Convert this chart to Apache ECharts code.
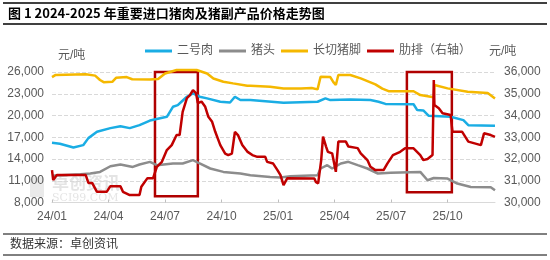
<!DOCTYPE html>
<html><head><meta charset="utf-8">
<script src="https://cdn.jsdelivr.net/npm/echarts@6/dist/echarts.min.js"></script>
<style>html,body{margin:0;padding:0;background:#fff}#c{width:550px;height:260px}</style>
</head><body><div id="c"></div>
<script>
const xTickLabels = ['24/01','24/04','24/07','24/10','25/01','25/04','25/07','25/10'];
const seriesNames = ['二号肉','猪头','长切猪脚','肋排（右轴）'];

const blueDates = ['2024-01-01','2024-01-14','2024-02-05','2024-02-20','2024-02-28','2024-03-13','2024-04-04','2024-04-20','2024-05-05','2024-05-21','2024-06-07','2024-07-04','2024-07-14','2024-07-22','2024-07-28','2024-08-06','2024-08-16','2024-08-27','2024-09-08','2024-09-29','2024-10-15','2024-10-23','2024-11-01','2024-11-17','2025-01-10','2025-03-04','2025-03-17','2025-03-25','2025-04-26','2025-05-29','2025-06-11','2025-06-22','2025-08-07','2025-08-13','2025-08-23','2025-09-01','2025-10-06','2025-10-27','2025-11-04','2025-12-17'];
const blueValues = [16230,16100,15590,15910,16880,17750,18260,18530,18260,18670,19300,19820,21200,21430,21900,22590,23050,22590,22360,21900,21800,22590,22130,22130,21760,21900,22360,22130,22200,22130,21900,21600,21550,20750,20700,19960,19820,19360,18670,18600];

const greyDates = ['2024-01-01','2024-02-16','2024-03-02','2024-03-18','2024-04-04','2024-04-20','2024-05-10','2024-05-21','2024-06-07','2024-06-18','2024-07-14','2024-07-30','2024-08-16','2024-08-27','2024-09-13','2024-10-04','2024-11-01','2024-11-17','2024-12-19','2025-01-05','2025-01-21','2025-03-04','2025-03-09','2025-03-20','2025-03-28','2025-04-11','2025-04-23','2025-05-08','2025-05-24','2025-06-10','2025-06-30','2025-08-18','2025-08-30','2025-09-09','2025-10-01','2025-10-17','2025-11-08','2025-12-10','2025-12-17'];
const greyValues = [11700,11900,12000,12220,13000,13240,12910,13240,13600,13150,13380,13380,13840,13380,12690,12220,12000,11760,11530,11450,11610,11760,12690,13150,12690,13380,13610,13150,12690,12000,12100,12220,11070,11380,11300,10610,10150,10100,9700];

const goldDates = ['2024-01-01','2024-01-07','2024-02-24','2024-03-10','2024-03-18','2024-03-24','2024-04-07','2024-04-13','2024-04-30','2024-05-09','2024-06-07','2024-06-20','2024-07-01','2024-07-20','2024-08-22','2024-09-08','2024-09-18','2024-10-04','2024-10-20','2024-11-12','2024-11-17','2024-12-19','2025-01-10','2025-02-07','2025-02-23','2025-03-04','2025-03-09','2025-03-25','2025-03-30','2025-04-03','2025-04-07','2025-04-26','2025-05-13','2025-06-06','2025-06-17','2025-06-27','2025-08-07','2025-08-18','2025-09-04','2025-09-09','2025-09-10','2025-10-01','2025-11-03','2025-12-05','2025-12-17'];
const goldValues = [25300,25600,25700,25500,24900,24600,24650,25200,25300,25000,24950,25030,25800,26280,26280,25800,25100,24660,24430,24110,24100,23970,23740,23740,23800,23600,25350,25300,24600,24200,25580,25580,25120,24300,23700,23350,23350,22820,22590,22500,24200,23740,23290,23100,22360];

const redDates = ['2024-01-01','2024-01-03','2024-01-09','2024-02-24','2024-02-28','2024-03-05','2024-03-13','2024-03-29','2024-04-04','2024-04-20','2024-04-24','2024-05-05','2024-05-21','2024-05-24','2024-06-03','2024-06-12','2024-06-18','2024-06-26','2024-07-04','2024-07-12','2024-07-20','2024-07-25','2024-07-30','2024-08-06','2024-08-11','2024-08-16','2024-08-21','2024-08-24','2024-08-30','2024-09-05','2024-09-10','2024-09-16','2024-09-21','2024-09-29','2024-10-07','2024-10-12','2024-10-18','2024-10-23','2024-10-28','2024-11-04','2024-11-12','2024-11-20','2024-11-28','2024-12-11','2024-12-14','2024-12-24','2024-12-31','2025-01-05','2025-01-10','2025-01-16','2025-02-27','2025-03-01','2025-03-05','2025-03-10','2025-03-13','2025-03-18','2025-03-21','2025-03-28','2025-04-03','2025-04-07','2025-04-19','2025-04-23','2025-05-08','2025-05-13','2025-05-24','2025-05-29','2025-06-06','2025-06-19','2025-06-25','2025-07-04','2025-07-16','2025-07-24','2025-08-07','2025-08-18','2025-08-23','2025-08-30','2025-09-07','2025-09-09','2025-09-10','2025-09-17','2025-09-23','2025-10-06','2025-10-09','2025-10-25','2025-11-04','2025-11-24','2025-11-29','2025-12-10','2025-12-17'];
const redValues = [31490,31030,31260,31260,30900,30900,30490,30490,30750,30750,30490,30340,30340,30720,31120,31120,31640,31870,32410,32640,33100,33100,34170,34800,34940,35170,35030,34570,34640,34400,33940,33710,33250,32640,32250,32180,32250,33250,33100,32640,32340,32180,32100,32100,31870,31790,31490,31260,30800,31110,31100,30950,30880,31950,33030,32570,32330,32260,31410,32800,32800,32570,32500,32260,31950,31640,31490,31490,31790,32180,32330,32490,32490,32180,31950,32000,32180,35630,34480,34330,34100,34020,33250,33250,32800,32640,33180,33100,33020];

// highlight boxes (date range, right-axis value range)
const boxDates = [['2024-06-15','2024-08-24'],['2025-07-27','2025-10-08']];
const boxValues = [[30286,36184],[30470,36415]];

const axisEnd = '2025-12-17';

function toM(s){const p=s.split('-').map(Number);const dim=new Date(p[0],p[1],0).getDate();return (p[0]-2024)*12+(p[1]-1)+(p[2]-1)/dim;}
function pts(d,v){return d.map((x,i)=>[toM(x),v[i]]);}

const FONT = "'Liberation Sans','Noto Sans CJK SC',sans-serif";
const chart = echarts.init(document.getElementById('c'), null, {renderer:'canvas'});
const colors = ['#1AADE4','#8C8C8C','#F5B800','#C00000'];
const mkSeries = (name, d, v, color, yi) => ({
  name, type:'line', data: pts(d,v), yAxisIndex: yi, showSymbol:false, symbol:'none',
  lineStyle:{color, width:2.5}, itemStyle:{color}, clip:false, animation:false
});
const red = mkSeries(seriesNames[3], redDates, redValues, colors[3], 1);
red.markArea = {silent:true, itemStyle:{color:'rgba(0,0,0,0)', borderColor:'#B00000', borderWidth:2.5},
  data: boxDates.map((b,i)=>[{xAxis:toM(b[0]), yAxis:boxValues[i][1]},{xAxis:toM(b[1]), yAxis:boxValues[i][0]}])};

chart.setOption({
  animation:false,
  textStyle:{fontFamily:FONT},
  grid:{left:52, right:55, top:72, bottom:57.5},
  legend:{top:40, left:140, itemWidth:27, itemHeight:3, itemGap:6, icon:'rect',
    textStyle:{fontSize:12, color:'#595959', fontFamily:FONT}, data:seriesNames},
  xAxis:{type:'value', min:0, max:toM(axisEnd), interval:3,
    axisLine:{lineStyle:{color:'#D9D9D9'}}, axisTick:{show:true, inside:true, length:3, lineStyle:{color:'#BFBFBF'}},
    splitLine:{show:false},
    axisLabel:{color:'#595959', fontSize:12, margin:8, showMaxLabel:false, fontFamily:FONT,
      formatter:v=>{const i=Math.round(v/3);return Math.abs(v-i*3)<1e-6&&xTickLabels[i]?xTickLabels[i]:'';}}},
  yAxis:[
    {type:'value', min:8000, max:26000, interval:3000, name:'元/吨', nameLocation:'end', nameGap:10,
      nameTextStyle:{color:'#595959', fontSize:12, align:'left', padding:[0,0,0,6]},
      axisLine:{show:false}, axisTick:{show:false},
      splitLine:{lineStyle:{color:'#D9D9D9', type:'dashed'}},
      axisLabel:{color:'#595959', fontSize:12, margin:8}},
    {type:'value', min:30000, max:36000, interval:1000, name:'元/吨', nameLocation:'end', nameGap:14,
      nameTextStyle:{color:'#595959', fontSize:12, align:'left', padding:[0,0,0,-6]},
      axisLine:{show:false}, axisTick:{show:false}, splitLine:{show:false},
      axisLabel:{color:'#595959', fontSize:12, margin:9}}
  ],
  graphic:[
    {type:'line', shape:{x1:3,y1:3,x2:547,y2:3}, style:{stroke:'#000', lineWidth:1.5}},
    {type:'line', shape:{x1:3,y1:24,x2:547,y2:24}, style:{stroke:'#000', lineWidth:1.5}},
    {type:'text', left:8, top:7, style:{text:'图 1 2024-2025 年重要进口猪肉及猪副产品价格走势图', font:"bold 13px 'Noto Sans CJK SC',sans-serif", fill:'#000'}},
    {type:'line', shape:{x1:3,y1:234,x2:547,y2:234}, style:{stroke:'#000', lineWidth:1}},
    {type:'line', shape:{x1:3,y1:255,x2:547,y2:255}, style:{stroke:'#000', lineWidth:1}},
    {type:'text', left:10, top:237, style:{text:'数据来源：卓创资讯', font:"12px 'Noto Sans CJK SC',sans-serif", fill:'#333'}},
    {type:'text', left:52, top:174, z:0, style:{text:'卓创资讯', font:"bold 17px 'Noto Sans CJK SC',sans-serif", fill:'rgba(170,170,170,0.32)'}},
    {type:'text', left:52, top:193, z:0, style:{text:'SCI99.COM', font:"11px 'DejaVu Serif',serif", fill:'rgba(170,170,170,0.32)'}},
    {type:'rect', shape:{x:30,y:177,width:14,height:20}, z:0, style:{fill:'rgba(170,170,170,0.25)'}}
  ],
  series:[
    mkSeries(seriesNames[0], blueDates, blueValues, colors[0], 0),
    mkSeries(seriesNames[1], greyDates, greyValues, colors[1], 0),
    mkSeries(seriesNames[2], goldDates, goldValues, colors[2], 0),
    red
  ]
});
</script></body></html>
